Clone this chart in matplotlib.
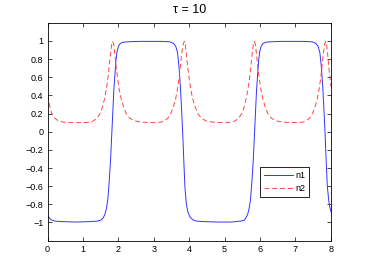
import matplotlib
matplotlib.use("Agg")
import matplotlib.pyplot as plt

# n1 (blue, solid)
t1 = [0.00, 0.05, 0.10, 0.20, 0.40, 0.80, 1.20, 1.40, 1.50, 1.57, 1.62, 1.66,
      1.70, 1.74, 1.78, 1.81, 1.84, 1.87, 1.90, 1.93, 1.96, 2.00, 2.05, 2.12,
      2.25, 2.60, 3.20, 3.45, 3.55, 3.62, 3.67, 3.71, 3.75, 3.79, 3.82, 3.85,
      3.88, 3.92, 3.96, 4.02, 4.10, 4.20, 4.40, 4.80, 5.20, 5.45, 5.55, 5.60,
      5.65, 5.69, 5.73, 5.77, 5.81, 5.84, 5.87, 5.90, 5.93, 5.96, 5.99, 6.03,
      6.08, 6.15, 6.28, 6.60, 7.20, 7.47, 7.57, 7.64, 7.69, 7.73, 7.77, 7.81,
      7.84, 7.87, 7.90, 7.94, 7.97, 8.00]
n1 = [-0.92, -0.95, -0.97, -0.985, -0.99, -0.995, -0.99, -0.985, -0.975, -0.95,
      -0.91, -0.85, -0.75, -0.55, -0.30, -0.05, 0.20, 0.45, 0.62, 0.78, 0.88,
      0.94, 0.97, 0.985, 0.99, 0.995, 0.995, 0.99, 0.975, 0.94, 0.87, 0.72,
      0.50, 0.20, -0.05, -0.35, -0.62, -0.80, -0.88, -0.94, -0.97, -0.985,
      -0.99, -0.995, -0.995, -0.985, -0.975, -0.95, -0.91, -0.85, -0.75, -0.55,
      -0.30, -0.05, 0.20, 0.45, 0.62, 0.78, 0.88, 0.94, 0.97, 0.985, 0.99,
      0.995, 0.995, 0.99, 0.975, 0.94, 0.87, 0.72, 0.50, 0.20, -0.05, -0.35,
      -0.60, -0.76, -0.83, -0.88]

# n2 (red, dashed)
t2 = [0.00, 0.04, 0.08, 0.12, 0.20, 0.30, 0.45, 0.70, 1.00, 1.20, 1.30, 1.40,
      1.48, 1.55, 1.60, 1.65, 1.70, 1.74, 1.78, 1.81, 1.84, 1.87, 1.90, 1.94,
      1.98, 2.03, 2.08, 2.14, 2.22, 2.32, 2.45, 2.65, 3.00, 3.20, 3.30, 3.40,
      3.48, 3.55, 3.61, 3.66, 3.71, 3.75, 3.79, 3.83, 3.86, 3.89, 3.92, 3.96,
      4.00, 4.05, 4.10, 4.16, 4.24, 4.34, 4.47, 4.67, 5.00, 5.20, 5.30, 5.40,
      5.48, 5.55, 5.60, 5.65, 5.70, 5.74, 5.78, 5.81, 5.84, 5.87, 5.90, 5.94,
      5.98, 6.03, 6.08, 6.14, 6.22, 6.32, 6.45, 6.65, 7.00, 7.20, 7.30, 7.40,
      7.48, 7.55, 7.61, 7.66, 7.71, 7.75, 7.79, 7.82, 7.85, 7.88, 7.91, 7.95,
      8.00]
n2 = [0.40, 0.32, 0.25, 0.20, 0.15, 0.12, 0.105, 0.10, 0.10, 0.105, 0.12, 0.15,
      0.20, 0.27, 0.35, 0.45, 0.58, 0.72, 0.87, 0.96, 0.995, 0.96, 0.85, 0.70,
      0.58, 0.45, 0.36, 0.28, 0.20, 0.15, 0.12, 0.105, 0.10, 0.105, 0.12, 0.15,
      0.20, 0.27, 0.35, 0.45, 0.58, 0.72, 0.87, 0.96, 0.995, 0.96, 0.85, 0.70,
      0.58, 0.45, 0.36, 0.28, 0.20, 0.15, 0.12, 0.105, 0.10, 0.105, 0.12, 0.15,
      0.20, 0.27, 0.35, 0.45, 0.58, 0.72, 0.87, 0.96, 0.995, 0.96, 0.85, 0.70,
      0.58, 0.45, 0.36, 0.28, 0.20, 0.15, 0.12, 0.105, 0.10, 0.105, 0.12, 0.15,
      0.20, 0.27, 0.35, 0.45, 0.58, 0.72, 0.87, 0.96, 0.995, 0.96, 0.85, 0.68,
      0.50]

xticks = [0, 1, 2, 3, 4, 5, 6, 7, 8]
yticks = [-1, -0.8, -0.6, -0.4, -0.2, 0, 0.2, 0.4, 0.6, 0.8, 1]
ytick_labels = ["\u22121", "\u22120.8", "\u22120.6", "\u22120.4", "\u22120.2", "0",
                "0.2", "0.4", "0.6", "0.8", "1"]

plt.rcParams['font.family'] = ['Liberation Sans', 'DejaVu Sans']

fig = plt.figure(figsize=(3.66, 2.71), dpi=100)
ax = fig.add_axes([0.13, 0.112, 0.774, 0.804])

ax.plot(t1, n1, color='#3333ff', linewidth=0.7, label='n1')
ax.plot(t2, n2, color='#ff4444', linewidth=0.7, linestyle=(0, (5, 3)), label='n2')

ax.set_xlim(0, 8)
ax.set_ylim(-1.2, 1.2)
ax.set_xticks(xticks)
ax.set_yticks(yticks)
ax.set_yticklabels(ytick_labels)
ax.tick_params(direction='in', length=3, width=0.5, labelsize=6.5, top=True,
               right=True, pad=3)
for s in ax.spines.values():
    s.set_linewidth(0.6)

ax.set_title('\u03c4 = 10', fontsize=9, pad=7)

leg = ax.legend(loc='upper right', bbox_to_anchor=(0.923, 0.337), fontsize=6.5,
                fancybox=False, framealpha=1, edgecolor='black',
                handlelength=3.2, borderpad=0.4, labelspacing=0.45,
                handletextpad=0.3, borderaxespad=0)
leg.get_frame().set_linewidth(0.6)

fig.savefig('out.png', dpi=100)
